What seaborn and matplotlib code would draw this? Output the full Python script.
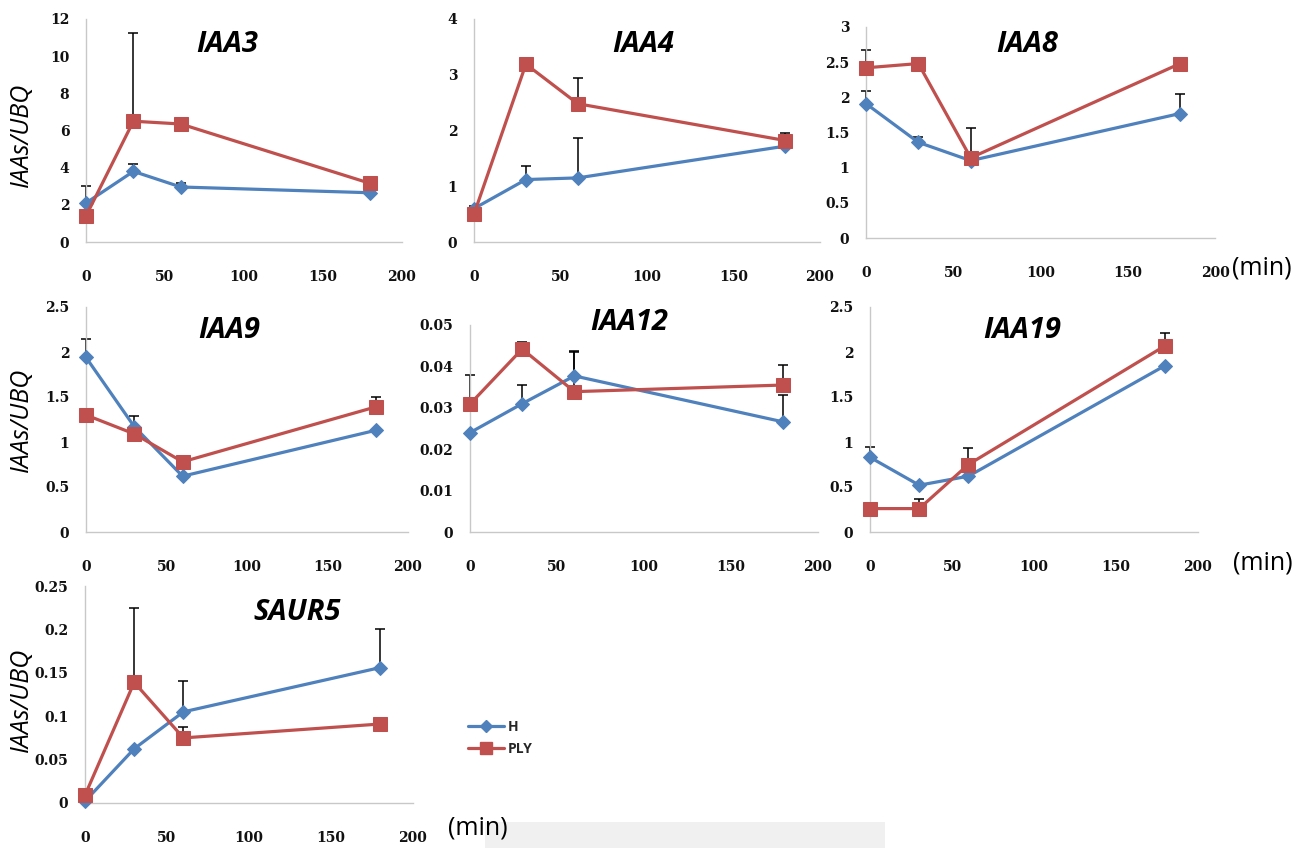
import numpy as np
import pandas as pd
import matplotlib
matplotlib.use("Agg")
import matplotlib.pyplot as plt
import seaborn as sns
from matplotlib.ticker import FuncFormatter, MultipleLocator
from matplotlib.patches import Rectangle
from matplotlib.lines import Line2D

# ---------------- data ----------------
times = [0, 30, 60, 180]
genes = ["IAA3", "IAA4", "IAA8", "IAA9", "IAA12", "IAA19", "SAUR5"]
groups = ["H", "PLY"]

h_iaa3 = [2.10, 3.80, 2.96, 2.65]
h_iaa3_err = [0.90, 0.40, 0.20, 0.0]
ply_iaa3 = [1.40, 6.50, 6.35, 3.15]
ply_iaa3_err = [0.0, 4.75, 0.0, 0.0]

h_iaa4 = [0.60, 1.12, 1.15, 1.72]
h_iaa4_err = [0.05, 0.25, 0.72, 0.0]
ply_iaa4 = [0.50, 3.19, 2.48, 1.82]
ply_iaa4_err = [0.0, 0.0, 0.47, 0.14]

h_iaa8 = [1.91, 1.36, 1.10, 1.77]
h_iaa8_err = [0.18, 0.08, 0.0, 0.28]
ply_iaa8 = [2.42, 2.48, 1.14, 2.48]
ply_iaa8_err = [0.26, 0.0, 0.42, 0.0]

h_iaa9 = [1.94, 1.17, 0.62, 1.13]
h_iaa9_err = [0.21, 0.12, 0.0, 0.0]
ply_iaa9 = [1.30, 1.09, 0.78, 1.39]
ply_iaa9_err = [0.0, 0.0, 0.0, 0.11]

h_iaa12 = [0.0240, 0.0310, 0.0377, 0.0266]
h_iaa12_err = [0.0, 0.0045, 0.0058, 0.0066]
ply_iaa12 = [0.0309, 0.0442, 0.0339, 0.0355]
ply_iaa12_err = [0.0070, 0.0018, 0.0099, 0.0048]

h_iaa19 = [0.83, 0.52, 0.62, 1.85]
h_iaa19_err = [0.12, 0.0, 0.0, 0.0]
ply_iaa19 = [0.26, 0.26, 0.75, 2.07]
ply_iaa19_err = [0.0, 0.11, 0.18, 0.14]

h_saur5 = [0.002, 0.0625, 0.105, 0.156]
h_saur5_err = [0.0, 0.0, 0.035, 0.045]
ply_saur5 = [0.009, 0.139, 0.075, 0.091]
ply_saur5_err = [0.0, 0.086, 0.012, 0.0]

y_max = [12, 4, 3, 2.5, 0.05, 2.5, 0.25]
y_step = [2, 1, 0.5, 0.5, 0.01, 0.5, 0.05]
x_ticks = [0, 50, 100, 150, 200]

series = {
    "IAA3": (h_iaa3, h_iaa3_err, ply_iaa3, ply_iaa3_err),
    "IAA4": (h_iaa4, h_iaa4_err, ply_iaa4, ply_iaa4_err),
    "IAA8": (h_iaa8, h_iaa8_err, ply_iaa8, ply_iaa8_err),
    "IAA9": (h_iaa9, h_iaa9_err, ply_iaa9, ply_iaa9_err),
    "IAA12": (h_iaa12, h_iaa12_err, ply_iaa12, ply_iaa12_err),
    "IAA19": (h_iaa19, h_iaa19_err, ply_iaa19, ply_iaa19_err),
    "SAUR5": (h_saur5, h_saur5_err, ply_saur5, ply_saur5_err),
}

# ---------------- style ----------------
sns.set_theme(style="white")
plt.rcParams["font.family"] = ["DejaVu Sans"]

W, H = 1306, 848
fig = plt.figure(figsize=(W / 100, H / 100), dpi=100)
fig.patch.set_facecolor("white")

BLUE = "#4F81BD"
RED = "#C0504D"
colors = {"H": BLUE, "PLY": RED}
markers = {"H": "D", "PLY": "s"}
msizes = {"H": 7.5, "PLY": 10}

# axes boxes in pixels: (left, top, right, bottom)
boxes = [
    (86, 19, 402, 242),
    (474, 19, 820, 242),
    (866, 27, 1215, 238),
    (86, 307, 408, 532),
    (470, 325, 818, 532),
    (870, 307, 1198, 532),
    (85, 586, 413, 803),
]
title_pos = [(227, 45), (643, 45), (1027, 45), (229, 330), (629, 322), (1022, 330), (297, 613)]


def px_rect(b):
    l, t, r, bt = b
    return [l / W, (H - bt) / H, (r - l) / W, (bt - t) / H]


fmt = FuncFormatter(lambda v, p: f"{v:g}")

axes = []
for i, g in enumerate(genes):
    ax = fig.add_axes(px_rect(boxes[i]))
    axes.append(ax)
    hv, he, pv, pe = series[g]
    for grp, vals, errs in (("H", hv, he), ("PLY", pv, pe)):
        df = pd.DataFrame({"time": times, "value": vals})
        sns.lineplot(data=df, x="time", y="value", ax=ax, color=colors[grp],
                     marker=markers[grp], markersize=msizes[grp],
                     markeredgecolor=colors[grp], linewidth=2.3,
                     label=grp, zorder=3 if grp == "H" else 4, legend=False)
        t_arr = np.array(times)
        v_arr = np.array(vals)
        e_arr = np.array(errs)
        m = e_arr > 0
        if m.any():
            cont = ax.errorbar(t_arr[m], v_arr[m], yerr=[np.zeros(m.sum()), e_arr[m]],
                               fmt="none", ecolor="black", elinewidth=1.1, capsize=3.5,
                               capthick=1.1, zorder=2)
            for art in cont.get_children():
                art.set_clip_on(False)
    ax.set_xlim(0, 200)
    ax.set_ylim(0, y_max[i])
    ax.xaxis.set_major_locator(MultipleLocator(50))
    ax.yaxis.set_major_locator(MultipleLocator(y_step[i]))
    ax.yaxis.set_major_formatter(fmt)
    ax.xaxis.set_major_formatter(fmt)
    ax.set_xlabel("")
    ax.set_ylabel("")
    for s in ("top", "right"):
        ax.spines[s].set_visible(False)
    for s in ("left", "bottom"):
        ax.spines[s].set_color("#C8C8C8")
        ax.spines[s].set_linewidth(1.0)
    ax.tick_params(axis="both", length=0)
    ax.tick_params(axis="x", pad=20)
    ax.tick_params(axis="y", pad=12)
    for lab in ax.get_xticklabels() + ax.get_yticklabels():
        lab.set_fontfamily("DejaVu Serif")
        lab.set_fontweight("bold")
        lab.set_fontsize(10)
        lab.set_color("#111111")
    ax.set_facecolor("none")
    for ln in ax.lines:
        ln.set_clip_on(False)
    tx, ty = title_pos[i]
    fig.text(tx / W, 1 - ty / H, g, ha="center", va="center",
             fontsize=21, fontweight="bold", fontstyle="italic",
             family="Open Sans", color="black")

# y labels
for yc in (135, 420, 700):
    fig.text(21 / W, 1 - yc / H, "IAAs/UBQ", rotation=90, ha="center", va="center",
             fontsize=18, fontstyle="italic", family="Open Sans", color="black")

# (min) labels
for (xc, yc) in ((1262, 268), (1263, 563), (478, 828)):
    fig.text(xc / W, 1 - yc / H, "(min)", ha="center", va="center",
             fontsize=18, family="Open Sans", color="black")

# legend
handles = [Line2D([0], [0], color=BLUE, marker="D", markersize=6.5, linewidth=2.3),
           Line2D([0], [0], color=RED, marker="s", markersize=8, linewidth=2.3)]
leg = fig.legend(handles, groups, loc="center left",
                 bbox_to_anchor=(455 / W, 1 - 738 / H), frameon=False,
                 handlelength=2.6, handletextpad=0.3, labelspacing=0.6,
                 prop=dict(family="Open Sans", weight="bold", size=10))

# faint scanned strip at the bottom
fig.patches.append(Rectangle((485 / W, 0), 400 / W, 26 / H, transform=fig.transFigure,
                             facecolor="#F0F0F0", edgecolor="none", zorder=0))

fig.savefig("out.png", dpi=100, facecolor="white")
